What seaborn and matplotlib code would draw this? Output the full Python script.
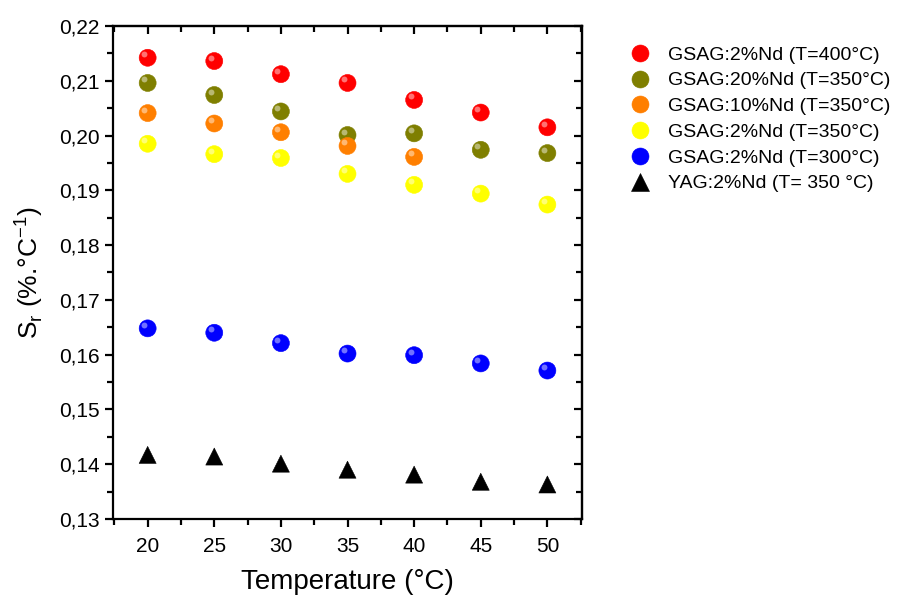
import numpy as np
import pandas as pd
import matplotlib
matplotlib.use('Agg')
import matplotlib.pyplot as plt
import matplotlib.transforms as mtransforms
from matplotlib.ticker import MultipleLocator, FuncFormatter
import seaborn as sns

# data
temps = [20, 25, 30, 35, 40, 45, 50]
gsag2_400 = [0.2142, 0.2136, 0.2112, 0.2096, 0.2065, 0.2042, 0.2015]
gsag20_350 = [0.2096, 0.2074, 0.2044, 0.2001, 0.2004, 0.1974, 0.1968]
gsag10_350 = [0.2041, 0.2022, 0.2006, 0.1981, 0.1961]
gsag2_350 = [0.1985, 0.1966, 0.1959, 0.1930, 0.1910, 0.1894, 0.1874]
gsag2_300 = [0.1648, 0.1640, 0.1621, 0.1602, 0.1599, 0.1584, 0.1571]
yag2_350 = [0.1417, 0.1414, 0.1401, 0.1390, 0.1381, 0.1368, 0.1363]

labels = ['GSAG:2%Nd (T=400°C)', 'GSAG:20%Nd (T=350°C)', 'GSAG:10%Nd (T=350°C)',
          'GSAG:2%Nd (T=350°C)', 'GSAG:2%Nd (T=300°C)', 'YAG:2%Nd (T= 350 °C)']
colors = ['#ff0000', '#7f7f00', '#ff7f00', '#ffff00', '#0000ff', '#000000']
series = [gsag2_400, gsag20_350, gsag10_350, gsag2_350, gsag2_300, yag2_350]

rows = []
for lab, vals in zip(labels, series):
    for t, v in zip(temps, vals):
        rows.append({'T': t, 'Sr': v, 'sample': lab})
df = pd.DataFrame(rows)

sns.set_style('white')
plt.rcParams['font.family'] = ['Liberation Sans', 'DejaVu Sans']
plt.rcParams['mathtext.fontset'] = 'custom'
plt.rcParams['mathtext.rm'] = 'Liberation Sans'
for k in ['text.color', 'axes.labelcolor', 'xtick.color', 'ytick.color']:
    plt.rcParams[k] = 'black'

fig = plt.figure(figsize=(9.07, 5.96), dpi=100)
ax = fig.add_axes([0.1246, 0.1292, 0.5171, 0.8272])

palette = dict(zip(labels, colors))
markers = {lab: 'o' for lab in labels}
markers[labels[-1]] = '^'
sns.scatterplot(data=df, x='T', y='Sr', hue='sample', style='sample',
                palette=palette, markers=markers, hue_order=labels,
                style_order=labels, s=150, linewidth=0.4, edgecolor='face', ax=ax,
                legend=True, zorder=3)

# little highlight to imitate the shaded spheres
hl = mtransforms.offset_copy(ax.transData, fig=fig, x=-2.5, y=2.5, units='points')
sph = df[df['sample'] != labels[-1]]
ax.scatter(sph['T'], sph['Sr'], s=18, color='white', alpha=0.45,
           linewidths=0, transform=hl, zorder=4)

ax.set_xlim(17.4, 52.6)
ax.set_ylim(0.13, 0.22)
ax.xaxis.set_major_locator(MultipleLocator(5))
ax.xaxis.set_minor_locator(MultipleLocator(2.5))
ax.yaxis.set_major_locator(MultipleLocator(0.01))
ax.yaxis.set_minor_locator(MultipleLocator(0.005))
ax.yaxis.set_major_formatter(FuncFormatter(lambda v, p: f'{v:.2f}'.replace('.', ',')))

for sp in ax.spines.values():
    sp.set_linewidth(1.6)
    sp.set_color('black')
ax.tick_params(which='both', direction='out', width=1.6, colors='black',
               labelsize=15, bottom=True, left=True)
ax.tick_params(which='major', length=6)
ax.tick_params(which='minor', length=4)
ax.tick_params(axis='x', pad=7)

# top/right ticks pointing inward
secx = ax.secondary_xaxis('top')
secx.xaxis.set_major_locator(MultipleLocator(5))
secx.xaxis.set_minor_locator(MultipleLocator(2.5))
secx.tick_params(which='both', direction='in', width=1.6, labeltop=False)
secx.tick_params(which='major', length=6)
secx.tick_params(which='minor', length=4)
secx.spines['top'].set_linewidth(1.6)
secy = ax.secondary_yaxis('right')
secy.yaxis.set_major_locator(MultipleLocator(0.01))
secy.yaxis.set_minor_locator(MultipleLocator(0.005))
secy.tick_params(which='both', direction='in', width=1.6, labelright=False)
secy.tick_params(which='major', length=6)
secy.tick_params(which='minor', length=4)
secy.spines['right'].set_linewidth(1.6)

ax.set_xlabel('Temperature (°C)', fontsize=20, labelpad=9)
ax.set_ylabel(r'S$_\mathregular{r}$ (%.°C$^\mathregular{-1}$)', fontsize=19, labelpad=10)

handles, labs = ax.get_legend_handles_labels()
ax.legend(handles, labs, loc='upper left', bbox_to_anchor=(1.045, 0.995),
          frameon=False, fontsize=14, markerscale=1.0, handletextpad=0.45,
          labelspacing=0.42, borderaxespad=0.5)

fig.savefig('out.png', dpi=100)
